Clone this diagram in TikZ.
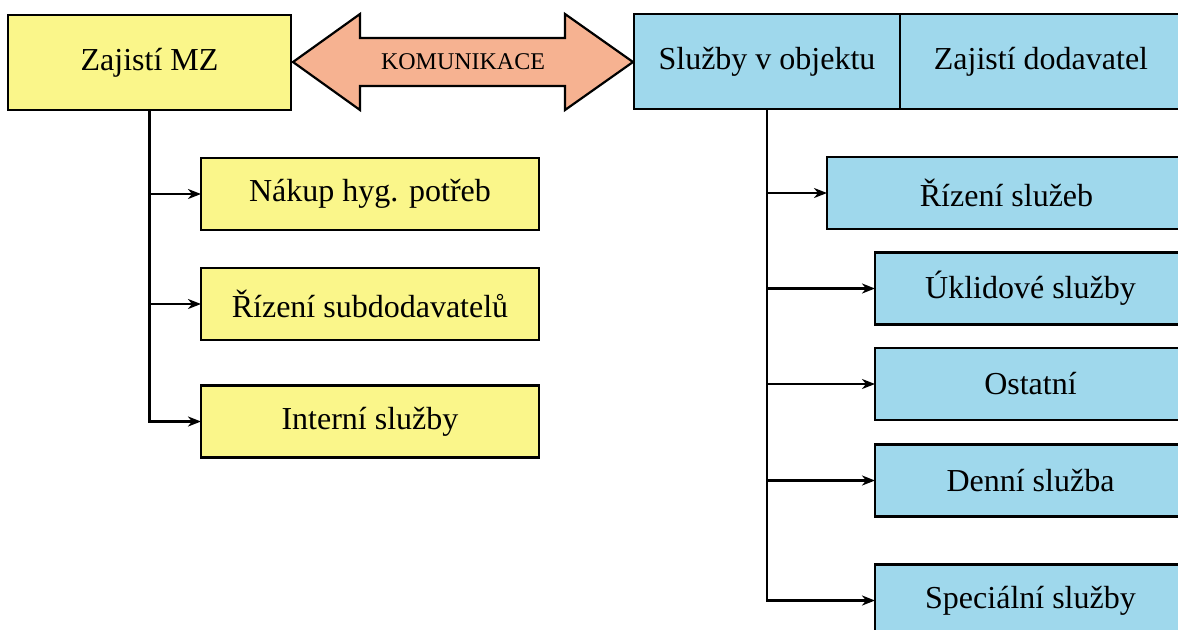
\documentclass[tikz,border=0pt]{standalone}
\usepackage{fontspec}
\setmainfont{Liberation Serif}
\usepackage{tikz}
\usetikzlibrary{arrows.meta, positioning}
\definecolor{mzYellow}{HTML}{FAF68A}
\definecolor{svcBlue}{HTML}{9FD8EC}
\definecolor{komSalmon}{HTML}{F6B291}
\tikzset{%
  >={Stealth[width=5pt,length=6.5pt,inset=2pt]},
  % Specifications for style of nodes:
           base/.style = {rectangle, draw=black, line width=1.1pt, outer sep=0pt,
                          inner sep=0pt, text centered,
                          font=\fontsize{16}{19}\selectfont},
        ownTask/.style = {base, fill=mzYellow},
   supplierTask/.style = {base, fill=svcBlue},
        subTask/.style = {ownTask, minimum width=169pt, minimum height=36pt},
    serviceTask/.style = {supplierTask, minimum width=155.5pt, minimum height=36pt},
       komArrow/.style = {draw=black, line width=1.1pt, fill=komSalmon,
                          line join=miter},
}

\begin{document}
\begin{tikzpicture}[x=0.5pt, y=-0.5pt]
  \useasboundingbox (0,0) rectangle (1178,629);
  % Specification of nodes (position, etc.)
  \node (MZ)        [ownTask, minimum width=141.5pt, minimum height=47.5pt]
                    at (149.5,62.5)  {Zajistí MZ};
  \node (objekt)    [supplierTask, minimum width=133pt, minimum height=47.5pt]
                    at (767,61.5)    {Služby v objektu};
  \node (dodavatel) [supplierTask, minimum width=141pt, minimum height=47.5pt,
                     right=0pt of objekt] {Zajistí dodavatel};
  \node (nakup)     [subTask] at (370,194)   {Nákup hyg. potřeb};
  \node (subdod)    [subTask] at (370,304)   {Řízení subdodavatelů};
  \node (interni)   [subTask] at (370,421.5) {Interní služby};
  \node (rizeni)    [serviceTask, minimum width=179.5pt]
                    at (1006.5,193)  {Řízení služeb};
  \node (uklid)     [serviceTask] at (1030.5,288.5) {Úklidové služby};
  \node (ostatni)   [serviceTask] at (1030.5,384)   {Ostatní};
  \node (denni)     [serviceTask] at (1030.5,480.5) {Denní služba};
  \node (special)   [serviceTask] at (1030.5,600.5) {Speciální služby};
  % Double arrow between the two sides
  \draw[komArrow] (293,62) -- (360,14) -- (360,38) -- (565,38) -- (565,14)
                  -- (633,62) -- (565,110) -- (565,86) -- (360,86)
                  -- (360,110) -- cycle;
  \node (komunikace) at (463,62) {\fontsize{12}{14}\selectfont KOMUNIKACE};
  % Specification of lines between nodes specified above
  \draw[->, line width=1.2pt] (MZ.south) |- (nakup.west);
  \draw[->, line width=1.2pt] (MZ.south) |- (subdod.west);
  \draw[->, line width=1.2pt] (MZ.south) |- (interni.west);
  \draw[->, line width=1.2pt] (objekt.south) |- (rizeni.west);
  \draw[->, line width=1.2pt] (objekt.south) |- (uklid.west);
  \draw[->, line width=1.2pt] (objekt.south) |- (ostatni.west);
  \draw[->, line width=1.2pt] (objekt.south) |- (denni.west);
  \draw[->, line width=1.2pt] (objekt.south) |- (special.west);
\end{tikzpicture}
\end{document}
